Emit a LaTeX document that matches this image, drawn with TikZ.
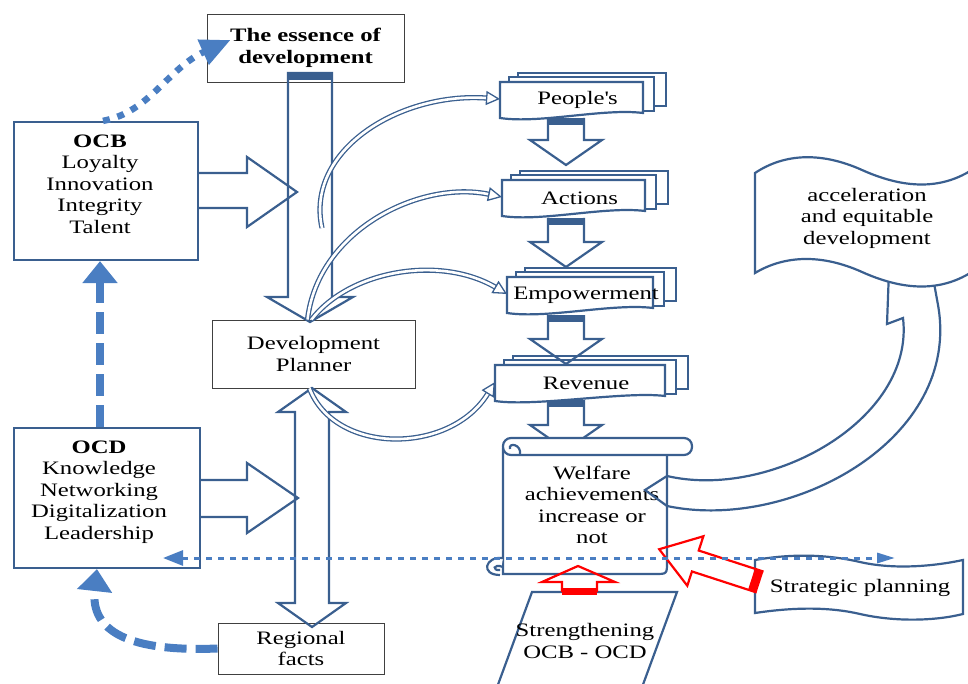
\documentclass[tikz,border=0pt]{standalone}
\usepackage{fontspec}
\setmainfont{Liberation Serif}[FakeStretch=1.3]
\usepackage{tikz}
\usetikzlibrary{arrows.meta,calc,positioning}
\definecolor{shapeblue}{HTML}{3A5F8F}
\definecolor{dashblue}{HTML}{4A7EC2}
\newcommand\diafont{\fontsize{19}{21.5}\selectfont}

\tikzset{
  shapeline/.style={draw=shapeblue, line width=2.2pt, line join=miter},
  txtbox/.style={draw=black!75, line width=0.9pt, fill=white},
  ocbox/.style={draw=shapeblue, line width=2.2pt, inner sep=0pt},
  lbl/.style={align=center, font=\diafont, inner sep=0pt},
  band/.style={draw=shapeblue, line width=1.3pt, double=white, double distance=2.6pt, -{Triangle[open,length=14pt,width=14pt]}},
  bigdash/.style={draw=dashblue, line width=8pt, dash pattern=on 22pt off 9pt, -{Triangle[length=22pt,width=34pt]}},
  smalldash/.style={draw=dashblue, line width=6.5pt, dash pattern=on 7pt off 8pt, -{Triangle[length=30pt,width=26pt]}},
  dotline/.style={draw=dashblue, line width=3pt, dash pattern=on 6pt off 6pt, {Triangle[length=20pt,width=15pt]}-{Triangle[length=18pt,width=10pt]}},
  redline/.style={draw=red, line width=2.2pt, line join=miter},
}

\newcommand\stackdoc[5]{%
  \begin{scope}[shift={(#2,#3)}]
    \draw[shapeline, fill=white] (18,-9) rectangle (#4+23,24);
    \draw[shapeline, fill=white] (9,-5) rectangle (#4+11,29);
    \draw[shapeline, fill=white] (0,0) -- (#4,0) -- (#4,31) .. controls (#4-40,26) and (40,42) .. (0,36) -- cycle;
    \coordinate (#1w) at (0,17);
    \node[lbl] (#1) at (#4/2+6,18) {#5};
  \end{scope}}

\newcommand\downblock[3]{%
  \draw[shapeline] (#1-18,#2) -- (#1-18,#3-25) -- (#1-36,#3-25) -- (#1,#3) -- (#1+36,#3-25) -- (#1+18,#3-25) -- (#1+18,#2);
  \fill[shapeblue] (#1-18,#2) rectangle (#1+18,#2+7);}

\begin{document}
\begin{tikzpicture}[x=1pt, y=-1pt]
\useasboundingbox (0,0) rectangle (968,684);

\node[txtbox, lbl, font=\diafont\bfseries, minimum width=197pt, minimum height=68pt] (essence) at (305.5,48) {The essence of\\development};
\node[txtbox, lbl, minimum width=203pt, minimum height=68pt] (planner) at (313.5,354) {Development\\Planner};
\node[txtbox, lbl, minimum width=166pt, minimum height=51pt] (regional) at (301,648.5) {Regional\\facts};
\node[ocbox, minimum width=184pt, minimum height=138pt] (ocb) at (106,191) {};
\node[lbl] (ocbtext) at (100,184) {\textbf{OCB}\\Loyalty\\Innovation\\Integrity\\Talent};
\node[ocbox, minimum width=186pt, minimum height=140pt] (ocd) at (107,498) {};
\node[lbl] (ocdtext) at (99,492) {\textbf{OCD}\\Knowledge\\Networking\\Digitalization\\Leadership};

\draw[shapeline] (288,73) -- (332,73) -- (332,297) -- (353,297) -- (310,322) -- (267,297) -- (288,297) -- cycle;
\fill[shapeblue] (288,73) rectangle (332,80);
\draw[shapeline] (295,412) -- (278,412) -- (312,388) -- (346,412) -- (329,412) -- (329,603) -- (346,603) -- (312,627) -- (278,603) -- (295,603) -- cycle;
\draw[shapeline] (198,173) -- (247,173) -- (247,157) -- (297,192) -- (247,227) -- (247,208) -- (198,208);
\draw[shapeline] (200,480) -- (247,480) -- (247,463) -- (298,498) -- (247,533) -- (247,517) -- (200,517);

\stackdoc{people}{500}{82}{143}{People\textquotesingle s}
\stackdoc{actions}{502}{180}{143}{Actions}
\stackdoc{empower}{507}{277}{146}{Empowerment}
\stackdoc{revenue}{495}{365}{170}{Revenue}
\downblock{566}{118}{165}
\downblock{566}{218}{267}
\downblock{566}{315}{364}
\downblock{566}{400}{450}

\draw[shapeline, fill=white] (503,448) -- (503,574) -- (655,574) .. controls (667,574) .. (667,562) -- (667,452);
\draw[shapeline, fill=white, rounded corners=8] (503,438) rectangle (692,455);
\draw[shapeline] (520,455) .. controls (522,444) and (508,442) .. (510,449);
\draw[shapeline, fill=white] (503,558) .. controls (485,556) and (480,575) .. (500,575);
\draw[shapeline] (503,567) .. controls (493,563) and (492,571) .. (500,570);
\node[lbl] (welfare) at (592,505) {Welfare\\achievements\\increase or\\not};

\draw[shapeline] (667,476) .. controls (770,500) and (915,420) .. (903,318) -- (887,324) -- (889,270) -- (932,272) -- (938,305) .. controls (962,440) and (790,532) .. (667,506) -- (645,490) -- cycle;
\draw[shapeline, fill=white] (755,173) .. controls (785,153) and (822,152) .. (862,170) .. controls (900,187) and (945,195) .. (985,160) -- (985,262) .. controls (945,297) and (900,289) .. (862,272) .. controls (822,254) and (785,255) .. (755,273) -- cycle;
\node[lbl] (accel) at (867,218) {acceleration\\and equitable\\development};

\draw[shapeline, fill=white] (532,592) -- (677,592) -- (641,690) -- (496,690) -- cycle;
\node[lbl] (strength) at (585,641) {Strengthening\\OCB - OCD};
\draw[shapeline, fill=white] (755,560) .. controls (795,553) and (830,555) .. (860,562) .. controls (895,570) and (935,566) .. (963,560) -- (963,614) .. controls (935,621) and (895,622) .. (860,614) .. controls (830,607) and (795,607) .. (755,613) -- cycle;
\node[lbl] (strategic) at (860,588) {Strategic planning};

\draw[redline] (562,592) -- (562,582) -- (542,582) -- (578,566) -- (615,582) -- (597,582) -- (597,592);
\fill[red] (562,588) rectangle (597,595);
\begin{scope}[shift={(760,582)}, rotate=162]
  \draw[redline] (0,-11) -- (68,-11) -- (68,-26) -- (106,0) -- (68,26) -- (68,11) -- (0,11);
  \fill[red] (0,-11) rectangle (9,11);
\end{scope}

\coordinate (hookA) at (322,228);
\draw[band] (hookA) .. controls (305,150) and (400,92) .. (peoplew);
\draw[band] ([xshift=-6pt]planner.north) .. controls (318,230) and (420,180) .. (actionsw);
\draw[band] ([xshift=-2pt]planner.north) .. controls (350,270) and (440,255) .. (empowerw);
\draw[band] ([xshift=-4pt]planner.south) .. controls (335,455) and (450,455) .. (revenuew);

\draw[smalldash] ([xshift=-3pt]ocb.north) .. controls (150,112) and (168,68) .. ([xshift=24pt,yshift=8pt]essence.west);
\draw[bigdash] ([xshift=-7pt]ocd.north) -- ([xshift=-6pt]ocb.south);
\draw[bigdash] (regional.west) .. controls (130,652) and (90,632) .. ([xshift=-10pt]ocd.south);
\coordinate (dotL) at (163,558);
\coordinate (dotR) at (895,558);
\draw[dotline] (dotL) -- (dotR);
\end{tikzpicture}
\end{document}
